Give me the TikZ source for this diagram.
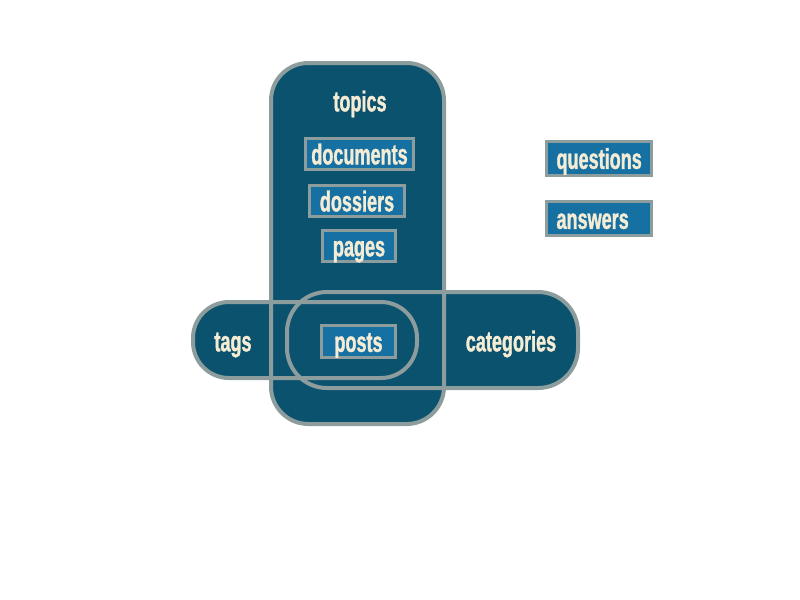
\documentclass[tikz,border=0pt]{standalone}
\usepackage{fontspec}
\setmainfont{Liberation Sans}[FakeStretch=0.63,BoldFeatures={FakeBold=1.2}]
\definecolor{darkfill}{HTML}{0B526E}
\definecolor{boxfill}{HTML}{1670A2}
\definecolor{edge}{HTML}{8D9C9C}
\definecolor{cream}{HTML}{F4ECD4}
\begin{document}
\begin{tikzpicture}[x=0.75pt,y=-0.75pt,
  lbl/.style={text=cream,font=\fontsize{21.5}{25}\selectfont\bfseries,inner sep=0pt,text height=15.5pt,text depth=0pt},
  item/.style={lbl,draw=edge,line width=2.4pt,fill=boxfill,minimum height=23.5pt},
  qa/.style={item,minimum height=25.5pt,text width=63.75pt,align=left,inner xsep=7.5pt},
  region/.style={rounded corners=#1}]
\useasboundingbox (0,0) rectangle (800,600);
% region corners
\coordinate (topA) at (271,63);  \coordinate (topB) at (444,424);
\coordinate (tagA) at (193,302); \coordinate (tagB) at (417,378);
\coordinate (catA) at (287,292); \coordinate (catB) at (578,388);
% fills
\fill[darkfill,region=28pt] (topA) rectangle (topB);
\fill[darkfill,region=27pt] (tagA) rectangle (tagB);
\fill[darkfill,region=30pt] (catA) rectangle (catB);
% outlines
\draw[edge,line width=3pt,region=28pt] (topA) rectangle (topB);
\draw[edge,line width=3pt,region=27pt] (tagA) rectangle (tagB);
\draw[edge,line width=3pt,region=30pt] (catA) rectangle (catB);
% labels
\node[lbl] (topics) at (360,101) {topics};
\node[lbl] (tags) at (233,341) {tags};
\node[lbl] (categories) at (511,341) {categories};
% items
\node[item,minimum width=81pt] (documents) at (359.5,154) {documents};
\node[item,minimum width=71.25pt] (dossiers) at (357,201) {dossiers};
\node[item,minimum width=54.75pt] (pages) at (359,246) {pages};
\node[item,minimum width=55.5pt] (posts) at (358.5,341.5) {posts};
\node[qa] (questions) at (599,158.5) {questions};
\node[qa] (answers) at (599,218.5) {answers};
\end{tikzpicture}
\end{document}
